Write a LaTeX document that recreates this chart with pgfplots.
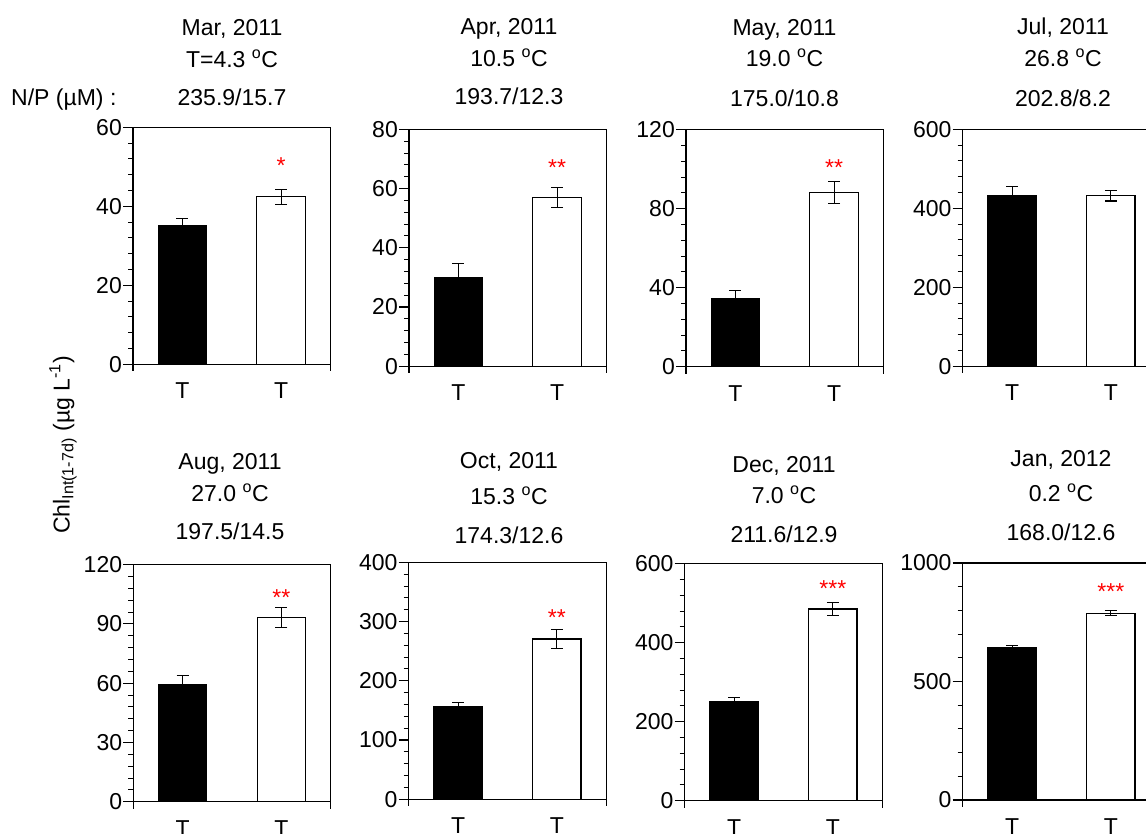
\documentclass[border=0pt]{standalone}
\usepackage{pgfplots}
\pgfplotsset{compat=1.18}
\usepackage{fontspec}
\setmainfont{Liberation Sans}
\newcommand{\fs}{\fontsize{23}{27}\selectfont}
\pgfplotsset{
  panel/.style={
    scale only axis, width=197.5pt, height=237pt, anchor=south west,
    xmin=0.5, xmax=2.5, xtick={1,2}, xticklabels={T,T},
    ymin=0, clip=false,
    tick align=outside, tick pos=left,
    major tick length=10pt, minor tick length=5pt,
    xtick style={draw=none},
    minor y tick num=4,
    axis line style={line width=1.1pt},
    every tick/.append style={black, line width=1.1pt},
    every minor tick/.append style={black, line width=0.9pt},
    tick label style={font=\fs},
    yticklabel style={inner sep=1pt},
    xticklabel style={yshift=-5pt},
    scaled y ticks=false,
    /pgf/number format/1000 sep={},
    /pgf/number format/assume math mode=true,
  },
  blackbar/.style={ybar, bar width=0.49, bar shift=0pt, fill=black, draw=black, line width=1.1pt,
    error bars/.cd, y dir=plus, y explicit,
    error bar style={line width=1.1pt, black},
    error mark options={rotate=90, mark size=6pt, line width=1.1pt, black}},
  whitebar/.style={ybar, bar width=0.49, bar shift=0pt, fill=white, draw=black, line width=1.1pt,
    error bars/.cd, y dir=both, y explicit,
    error bar style={line width=1.1pt, black},
    error mark options={rotate=90, mark size=6pt, line width=1.1pt, black}},
}
\newcommand{\corners}{%
  \draw[line width=1.1pt] (axis cs:0.5,0) -- ++(0pt,-7pt);
  \draw[line width=1.1pt] (axis cs:2.5,0) -- ++(0pt,-7pt);}
\newcommand{\stars}[2]{\node[anchor=base, text=red, font=\fs, yshift=-13pt] at (axis cs:2,#1) {#2};}
\begin{document}
\begin{tikzpicture}
\useasboundingbox (0pt,0pt) rectangle (1146pt,834pt);
\clip (0pt,0pt) rectangle (1146pt,834pt);

% ---------- titles ----------
\begin{scope}[every node/.style={font=\fs, inner sep=0pt}]
\node[anchor=base west] at (11pt,728pt) {N/P (µM) :};
\node[anchor=base] at (232pt,798pt) {Mar, 2011};
\node[anchor=base] at (232pt,766.3pt) {T=4.3 \textsuperscript{o}C};
\node[anchor=base] at (232pt,728pt) {235.9/15.7};
\node[anchor=base] at (509pt,799pt) {Apr, 2011};
\node[anchor=base] at (509pt,767.3pt) {10.5 \textsuperscript{o}C};
\node[anchor=base] at (509pt,729pt) {193.7/12.3};
\node[anchor=base] at (784.5pt,798pt) {May, 2011};
\node[anchor=base] at (784.5pt,767.3pt) {19.0 \textsuperscript{o}C};
\node[anchor=base] at (784.5pt,727.3pt) {175.0/10.8};
\node[anchor=base] at (1063pt,799pt) {Jul, 2011};
\node[anchor=base] at (1063pt,767.3pt) {26.8 \textsuperscript{o}C};
\node[anchor=base] at (1063pt,727.3pt) {202.8/8.2};
\node[anchor=base] at (230pt,364pt) {Aug, 2011};
\node[anchor=base] at (230pt,332.3pt) {27.0 \textsuperscript{o}C};
\node[anchor=base] at (230pt,294pt) {197.5/14.5};
\node[anchor=base] at (509pt,365pt) {Oct, 2011};
\node[anchor=base] at (509pt,329pt) {15.3 \textsuperscript{o}C};
\node[anchor=base] at (509pt,290pt) {174.3/12.6};
\node[anchor=base] at (784pt,361.7pt) {Dec, 2011};
\node[anchor=base] at (784pt,330.7pt) {7.0 \textsuperscript{o}C};
\node[anchor=base] at (784pt,291.7pt) {211.6/12.9};
\node[anchor=base] at (1061pt,367.3pt) {Jan, 2012};
\node[anchor=base] at (1061pt,332.3pt) {0.2 \textsuperscript{o}C};
\node[anchor=base] at (1061pt,293.3pt) {168.0/12.6};
\node[rotate=90, anchor=center] at (63pt,389pt) {Chl\textsubscript{Int(1-7d)} (µg L\textsuperscript{-1})};
\end{scope}

% ---------- row 1 ----------
\begin{axis}[panel, at={(133pt,469.7pt)}, ymax=60, ytick={0,20,40,60}]
\addplot[blackbar] coordinates {(1,35.0) +- (0,1.8)};
\addplot[whitebar] coordinates {(2,42.4) +- (0,1.9)};
\stars{51.7}{*}
\corners
\end{axis}

\begin{axis}[panel, at={(409pt,467.7pt)}, ymax=80, ytick={0,20,40,60,80}]
\addplot[blackbar] coordinates {(1,30.0) +- (0,4.6)};
\addplot[whitebar] coordinates {(2,57.0) +- (0,3.3)};
\stars{68.9}{**}
\corners
\end{axis}

\begin{axis}[panel, at={(686pt,467.3pt)}, ymax=120, ytick={0,40,80,120}]
\addplot[blackbar] coordinates {(1,34.7) +- (0,3.9)};
\addplot[whitebar] coordinates {(2,88.1) +- (0,5.5)};
\stars{103.6}{**}
\corners
\end{axis}

\begin{axis}[panel, at={(962.7pt,467.7pt)}, ymax=600, ytick={0,200,400,600}]
\addplot[blackbar] coordinates {(1,432) +- (0,24)};
\addplot[whitebar] coordinates {(2,432) +- (0,13.5)};
\corners
\end{axis}

% ---------- row 2 ----------
\begin{axis}[panel, at={(133.3pt,32.3pt)}, ymax=120, ytick={0,30,60,90,120}]
\addplot[blackbar] coordinates {(1,59.2) +- (0,4.5)};
\addplot[whitebar] coordinates {(2,93.3) +- (0,5.2)};
\stars{106}{**}
\corners
\end{axis}

\begin{axis}[panel, at={(408.7pt,34.7pt)}, ymax=400, ytick={0,100,200,300,400}]
\addplot[blackbar] coordinates {(1,156.4) +- (0,7)};
\addplot[whitebar] coordinates {(2,270.5) +- (0,16)};
\stars{315}{**}
\corners
\end{axis}

\begin{axis}[panel, at={(684.7pt,33.3pt)}, ymax=600, ytick={0,200,400,600}]
\addplot[blackbar] coordinates {(1,250.2) +- (0,10)};
\addplot[whitebar] coordinates {(2,485.3) +- (0,15.5)};
\stars{548.7}{***}
\corners
\end{axis}

\begin{axis}[panel, at={(962.7pt,34pt)}, ymax=1000, ytick={0,500,1000}]
\addplot[blackbar] coordinates {(1,642) +- (0,9)};
\addplot[whitebar] coordinates {(2,788.7) +- (0,9)};
\stars{901}{***}
\corners
\end{axis}
\end{tikzpicture}
\end{document}
